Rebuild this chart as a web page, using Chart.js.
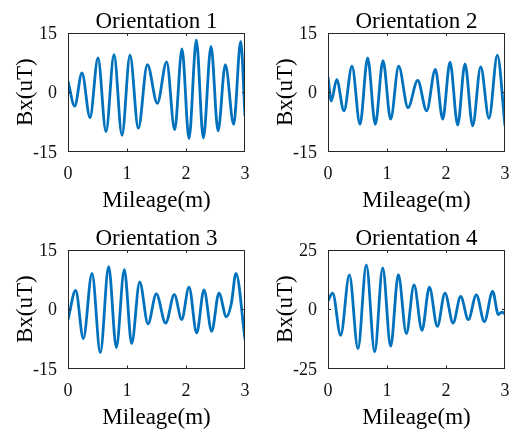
<!DOCTYPE html>
<html>
<head>
<meta charset="utf-8">
<script src="https://cdn.jsdelivr.net/npm/chart.js@4.4.0/dist/chart.umd.min.js"></script>
<style>
  html, body { margin: 0; padding: 0; background: #fff; overflow: hidden; width: 514px; height: 432px; }
  canvas { position: absolute; }
</style>
</head>
<body>
<canvas id="c1" width="254" height="215" style="left:0px;top:0px"></canvas>
<canvas id="c2" width="254" height="215" style="left:260px;top:0px"></canvas>
<canvas id="c3" width="254" height="215" style="left:0px;top:217px"></canvas>
<canvas id="c4" width="254" height="215" style="left:260px;top:217px"></canvas>
<script>
// ---- Data ----
const titles = ['Orientation 1', 'Orientation 2', 'Orientation 3', 'Orientation 4'];
const xTicks = [0, 1, 2, 3];
const yTicksSmall = [-15, 0, 15];
const yTicksLarge = [-25, 0, 25];
const xLabel = 'Mileage(m)';
const yLabel = 'Bx(uT)';

const mileage1 = [0, 0.113, 0.237, 0.373, 0.508, 0.644, 0.78, 0.915, 1.051, 1.192, 1.345, 1.514, 1.672, 1.808, 1.932, 2.051, 2.175, 2.294, 2.424, 2.543, 2.667, 2.808, 2.927, 3.0];
const bx1 = [2.8, -3.5, 4.9, -6.4, 8.7, -10.0, 9.5, -10.9, 9.4, -9.1, 7.0, -2.8, 7.7, -9.5, 11.0, -11.7, 13.2, -11.6, 11.6, -9.8, 7.0, -8.1, 12.9, -6.0];

const mileage2 = [0, 0.056, 0.147, 0.271, 0.407, 0.542, 0.672, 0.802, 0.932, 1.062, 1.198, 1.356, 1.52, 1.672, 1.819, 1.944, 2.068, 2.198, 2.322, 2.452, 2.588, 2.729, 2.87, 3.0];
const bx2 = [3.9, -2.2, 3.2, -4.7, 6.6, -8.1, 8.7, -8.1, 8.0, -6.8, 6.6, -3.9, 3.0, -4.7, 5.8, -6.8, 7.6, -8.3, 7.2, -8.5, 6.4, -6.6, 9.4, -8.5];

const mileage3 = [0, 0.13, 0.26, 0.407, 0.548, 0.689, 0.819, 0.955, 1.079, 1.215, 1.356, 1.497, 1.655, 1.802, 1.927, 2.051, 2.181, 2.305, 2.435, 2.559, 2.684, 2.768, 2.847, 3.0];
const bx3 = [-2.6, 4.75, -7.4, 9.1, -11.0, 10.8, -9.7, 10.0, -8.7, 6.9, -3.7, 3.9, -3.5, 3.7, -2.6, 5.6, -6.0, 4.9, -5.6, 4.1, -1.9, 1.4, 9.1, -7.6];

const mileage4 = [0, 0.079, 0.215, 0.362, 0.508, 0.65, 0.791, 0.927, 1.062, 1.192, 1.328, 1.458, 1.593, 1.718, 1.853, 1.983, 2.119, 2.249, 2.378, 2.514, 2.65, 2.791, 2.887, 2.944, 3.0];
const bx4 = [3.5, 6.8, -11.0, 14.5, -16.6, 18.7, -18.0, 17.4, -15.6, 14.6, -10.3, 10.3, -8.9, 9.3, -7.2, 6.8, -5.8, 5.4, -4.4, 6.1, -5.2, 7.5, -2.3, -1.2, -2.0];

// ---- Styling ----
const FONT = '"Liberation Serif", "Times New Roman", serif';
const AXIS_COLOR = '#262626';
const LINE_COLOR = '#0072BD';

const boxPlugin = {
  id: 'matlabBox',
  afterDraw(chart) {
    const { ctx, chartArea: a, scales } = chart;
    const xs = scales.x, ys = scales.y;
    ctx.save();
    ctx.strokeStyle = AXIS_COLOR;
    ctx.lineWidth = 1;
    ctx.strokeRect(Math.round(a.left) + 0.5, Math.round(a.top) + 0.5,
                   Math.round(a.right) - Math.round(a.left) - 1, Math.round(a.bottom) - Math.round(a.top) - 1);
    const tl = 3;
    ctx.beginPath();
    xs.ticks.forEach(t => {
      const px = Math.round(xs.getPixelForValue(t.value)) + 0.5;
      if (px <= a.left + 1 || px >= a.right - 1) return;
      ctx.moveTo(px, a.bottom); ctx.lineTo(px, a.bottom - tl);
      ctx.moveTo(px, a.top); ctx.lineTo(px, a.top + tl);
    });
    ys.ticks.forEach(t => {
      const py = Math.round(ys.getPixelForValue(t.value)) + 0.5;
      if (py <= a.top + 1 || py >= a.bottom - 1) return;
      ctx.moveTo(a.left, py); ctx.lineTo(a.left + tl, py);
      ctx.moveTo(a.right, py); ctx.lineTo(a.right - tl, py);
    });
    ctx.stroke();
    ctx.restore();
  }
};

function makeChart(id, title, xsArr, ysArr, yTicks) {
  const pts = xsArr.map((v, i) => ({ x: v, y: ysArr[i] }));
  return new Chart(document.getElementById(id), {
    type: 'line',
    data: {
      datasets: [{
        data: pts,
        borderColor: LINE_COLOR,
        borderWidth: 2.8,
        pointRadius: 0,
        fill: false,
        cubicInterpolationMode: 'monotone',
        tension: 0.4
      }]
    },
    options: {
      responsive: false,
      animation: false,
      devicePixelRatio: 1,
      layout: { padding: { left: 0, right: 9, top: 0, bottom: 0 } },
      plugins: {
        legend: { display: false },
        tooltip: { enabled: false },
        title: {
          display: true,
          fullSize: false,
          align: 'center',
          text: title,
          color: '#000',
          font: { family: FONT, size: 23, weight: 'normal', lineHeight: 1 },
          padding: { top: 10, bottom: 0 }
        }
      },
      scales: {
        x: {
          type: 'linear',
          min: xTicks[0],
          max: xTicks[xTicks.length - 1],
          afterBuildTicks: s => { s.ticks = xTicks.map(v => ({ value: v })); },
          afterFit: s => { s.height = 63.5; s.paddingLeft = 0; s.paddingRight = 0; },
          grid: { display: false, drawTicks: false },
          border: { display: false },
          ticks: {
            color: '#111',
            padding: 14,
            font: { family: FONT, size: 18, lineHeight: 1 },
            maxRotation: 0,
            callback: v => String(v)
          },
          title: {
            display: true,
            text: xLabel,
            color: '#000',
            font: { family: FONT, size: 23, lineHeight: 1.2 },
            padding: { top: 0, bottom: 0 }
          }
        },
        y: {
          type: 'linear',
          min: yTicks[0],
          max: yTicks[yTicks.length - 1],
          afterBuildTicks: s => { s.ticks = yTicks.map(v => ({ value: v })); },
          afterFit: s => { s.width = 68; s.paddingTop = 0; s.paddingBottom = 0; },
          grid: { display: false, drawTicks: false },
          border: { display: false },
          ticks: {
            color: '#111',
            padding: 11,
            labelOffset: 1.5,
            font: { family: FONT, size: 18, lineHeight: 1 },
            callback: v => String(v)
          },
          title: {
            display: true,
            text: yLabel,
            color: '#000',
            font: { family: FONT, size: 23, lineHeight: 1.2 },
            padding: { top: 12, bottom: 0 }
          }
        }
      }
    },
    plugins: [boxPlugin]
  });
}

makeChart('c1', titles[0], mileage1, bx1, yTicksSmall);
makeChart('c2', titles[1], mileage2, bx2, yTicksSmall);
makeChart('c3', titles[2], mileage3, bx3, yTicksSmall);
makeChart('c4', titles[3], mileage4, bx4, yTicksLarge);
</script>
</body>
</html>
